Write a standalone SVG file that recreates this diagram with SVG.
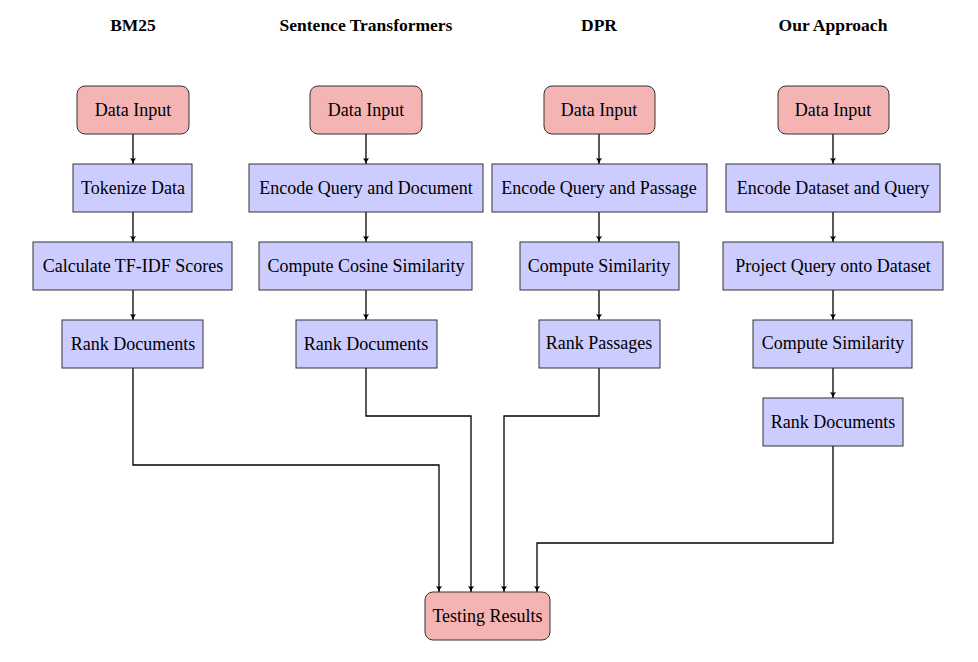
<svg xmlns="http://www.w3.org/2000/svg" width="978" height="662" viewBox="0 0 978 662">
<defs>
<marker id="ah" markerWidth="8" markerHeight="8" refX="7" refY="4" orient="auto" markerUnits="userSpaceOnUse">
<path d="M1,1 Q4,3.2 7,4 Q4,4.8 1,7 Q2.5,4 1,1 Z" fill="#000"/>
</marker>
<style>
.t{font-family:"Liberation Serif","Times New Roman",serif;font-size:18px;fill:#000;text-anchor:middle}
.h{font-family:"Liberation Serif","Times New Roman",serif;font-size:17.5px;font-weight:bold;fill:#000;text-anchor:middle}
.r{fill:#F4B4B4;stroke:#333;stroke-width:1}
.b{fill:#CCCCFF;stroke:#333;stroke-width:1}
.c{fill:none;stroke:#000;stroke-width:1.3;marker-end:url(#ah)}
</style>
</defs>
<rect width="978" height="662" fill="#fff"/>
<g id="titles">
<text class="h" x="133" y="31">BM25</text>
<text class="h" x="366" y="31">Sentence Transformers</text>
<text class="h" x="599" y="31">DPR</text>
<text class="h" x="833" y="31">Our Approach</text>
</g>
<g id="connectors">
<path class="c" d="M133,134 V164"/>
<path class="c" d="M133,212 V242"/>
<path class="c" d="M133,290 V320"/>
<path class="c" d="M366,134 V164"/>
<path class="c" d="M366,212 V242"/>
<path class="c" d="M366,290 V320"/>
<path class="c" d="M599,134 V164"/>
<path class="c" d="M599,212 V242"/>
<path class="c" d="M599,290 V320"/>
<path class="c" d="M833,134 V164"/>
<path class="c" d="M833,212 V242"/>
<path class="c" d="M833,290 V320"/>
<path class="c" d="M833,368 V398"/>
<path class="c" d="M133,368 V465 H439 V592"/>
<path class="c" d="M366,368 V416 H471 V592"/>
<path class="c" d="M599,368 V416 H504 V592"/>
<path class="c" d="M833,446 V543 H537 V592"/>
</g>
<g id="bm25-input"><rect class="r" x="77" y="86" width="112" height="48" rx="8"/><text class="t" x="133" y="116">Data Input</text></g>
<g id="bm25-tokenize"><rect class="b" x="73" y="164" width="119" height="48"/><text class="t" x="133" y="194">Tokenize Data</text></g>
<g id="bm25-tfidf"><rect class="b" x="33" y="242" width="199" height="48"/><text class="t" x="133" y="272">Calculate TF-IDF Scores</text></g>
<g id="bm25-rank"><rect class="b" x="62" y="320" width="141" height="48"/><text class="t" x="133" y="350">Rank Documents</text></g>

<g id="st-input"><rect class="r" x="310" y="86" width="112" height="48" rx="8"/><text class="t" x="366" y="116">Data Input</text></g>
<g id="st-encode"><rect class="b" x="249" y="164" width="234" height="48"/><text class="t" x="366" y="194">Encode Query and Document</text></g>
<g id="st-cosine"><rect class="b" x="259" y="242" width="213" height="48"/><text class="t" x="366" y="272">Compute Cosine Similarity</text></g>
<g id="st-rank"><rect class="b" x="296" y="320" width="141" height="48"/><text class="t" x="366" y="350">Rank Documents</text></g>

<g id="dpr-input"><rect class="r" x="544" y="86" width="111" height="48" rx="8"/><text class="t" x="599" y="116">Data Input</text></g>
<g id="dpr-encode"><rect class="b" x="492" y="164" width="215" height="48"/><text class="t" x="599" y="194">Encode Query and Passage</text></g>
<g id="dpr-sim"><rect class="b" x="520" y="242" width="159" height="48"/><text class="t" x="599" y="272">Compute Similarity</text></g>
<g id="dpr-rank"><rect class="b" x="539" y="320" width="121" height="48"/><text class="t" x="599" y="349">Rank Passages</text></g>

<g id="our-input"><rect class="r" x="778" y="86" width="111" height="48" rx="8"/><text class="t" x="833" y="116">Data Input</text></g>
<g id="our-encode"><rect class="b" x="726" y="164" width="214" height="48"/><text class="t" x="833" y="194">Encode Dataset and Query</text></g>
<g id="our-project"><rect class="b" x="723" y="242" width="220" height="48"/><text class="t" x="833" y="272">Project Query onto Dataset</text></g>
<g id="our-sim"><rect class="b" x="753" y="320" width="159" height="48"/><text class="t" x="833" y="349">Compute Similarity</text></g>
<g id="our-rank"><rect class="b" x="763" y="398" width="140" height="48"/><text class="t" x="833" y="428">Rank Documents</text></g>

<g id="testing-results"><rect class="r" x="425" y="592" width="125" height="48" rx="8"/><text class="t" x="487.5" y="622">Testing Results</text></g>
</svg>
